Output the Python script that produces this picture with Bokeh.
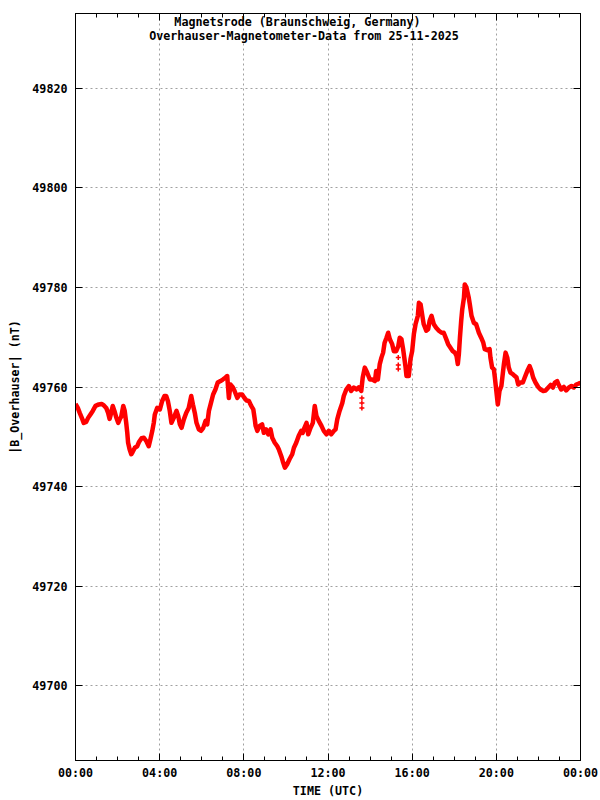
from bokeh.plotting import figure
from bokeh.models import FixedTicker, LinearAxis, Range1d, Label
from bokeh.embed import file_html
from bokeh.resources import INLINE

# ---- data ----
hours = [
    0.00, 0.11, 0.20, 0.32, 0.39, 0.51, 0.60, 0.71, 0.82, 0.95,
    1.11, 1.24, 1.35, 1.46, 1.55, 1.62, 1.66, 1.77, 1.85, 1.93,
    2.03, 2.11, 2.17, 2.27, 2.34, 2.41, 2.46, 2.50, 2.57, 2.65,
    2.72, 2.82, 2.93, 3.01, 3.14, 3.25, 3.37, 3.48, 3.56, 3.65,
    3.72, 3.77, 3.88, 4.01, 4.12, 4.23, 4.31, 4.39, 4.48, 4.56,
    4.67, 4.80, 4.88, 4.96, 5.04, 5.15, 5.26, 5.38, 5.50, 5.58,
    5.67, 5.75, 5.86, 5.97, 6.07, 6.18, 6.26, 6.34, 6.42, 6.54,
    6.65, 6.76, 6.89, 7.00, 7.13, 7.21, 7.29, 7.37, 7.48, 7.56,
    7.69, 7.79, 7.92, 8.03, 8.13, 8.24, 8.35, 8.45, 8.52, 8.56,
    8.64, 8.75, 8.87, 8.95, 9.06, 9.16, 9.27, 9.35, 9.47, 9.59,
    9.66, 9.78, 9.85, 9.95, 10.06, 10.17, 10.30, 10.38, 10.49, 10.61,
    10.73, 10.80, 10.88, 10.98, 11.06, 11.17, 11.28, 11.37, 11.45, 11.56,
    11.69, 11.80, 11.93, 12.04, 12.15, 12.28, 12.36, 12.44, 12.55, 12.68,
    12.75, 12.87, 12.99, 13.10, 13.23, 13.36, 13.46, 13.58, 13.65, 13.75,
    13.86, 13.99, 14.10, 14.23, 14.29, 14.37, 14.46, 14.54, 14.62, 14.69,
    14.78, 14.86, 14.94, 15.05, 15.13, 15.24, 15.34, 15.41, 15.49, 15.57,
    15.68, 15.73, 15.84, 15.92, 16.00, 16.08, 16.16, 16.27, 16.32, 16.40,
    16.51, 16.55, 16.67, 16.76, 16.83, 16.92, 17.03, 17.14, 17.27, 17.40,
    17.50, 17.62, 17.71, 17.82, 17.93, 18.03, 18.11, 18.17, 18.22, 18.27,
    18.33, 18.38, 18.46, 18.50, 18.58, 18.69, 18.74, 18.82, 18.93, 19.04,
    19.17, 19.28, 19.38, 19.45, 19.57, 19.68, 19.72, 19.80, 19.88, 19.93,
    20.00, 20.07, 20.15, 20.24, 20.36, 20.44, 20.52, 20.59, 20.67, 20.78,
    20.88, 20.96, 21.04, 21.15, 21.26, 21.35, 21.47, 21.58, 21.67, 21.75,
    21.86, 21.99, 22.10, 22.23, 22.34, 22.47, 22.58, 22.69, 22.78, 22.89,
    22.97, 23.08, 23.21, 23.32, 23.45, 23.57, 23.68, 23.80, 23.92, 24.00,
]
field_nT = [
    49756.6, 49755.8, 49754.8, 49753.6, 49752.8, 49753.0, 49753.8, 49754.5, 49755.2, 49756.2,
    49756.5, 49756.6, 49756.3, 49755.8, 49754.8, 49753.6, 49754.2, 49756.2, 49755.2, 49754.0,
    49752.8, 49753.6, 49754.0, 49756.2, 49755.2, 49752.8, 49750.8, 49748.8, 49747.5, 49746.5,
    49747.0, 49747.8, 49748.1, 49748.9, 49749.7, 49749.8, 49749.1, 49748.1, 49749.5, 49751.2,
    49752.8, 49754.5, 49755.8, 49755.5, 49757.2, 49758.2, 49758.2, 49757.2, 49755.2, 49752.8,
    49753.8, 49755.2, 49754.2, 49752.5, 49751.8, 49753.5, 49754.8, 49755.8, 49758.2, 49756.5,
    49754.8, 49752.8, 49751.5, 49751.2, 49751.8, 49753.2, 49752.5, 49755.2, 49756.5, 49758.5,
    49759.5, 49760.9, 49761.2, 49761.5, 49761.9, 49762.2, 49757.8, 49760.5, 49759.9, 49759.2,
    49757.8, 49758.5, 49758.5, 49757.8, 49757.3, 49757.2, 49756.2, 49755.5, 49753.5, 49752.2,
    49751.2, 49752.2, 49752.5, 49750.8, 49751.5, 49750.5, 49751.5, 49749.8, 49748.8, 49748.1,
    49747.5, 49746.1, 49745.1, 49743.8, 49744.5, 49745.5, 49746.5, 49747.8, 49748.8, 49750.2,
    49751.2, 49750.8, 49751.8, 49752.8, 49750.5, 49751.8, 49752.8, 49756.2, 49754.2, 49753.2,
    49752.2, 49751.2, 49750.5, 49751.2, 49750.5, 49751.2, 49751.5, 49753.5, 49755.2, 49756.8,
    49758.2, 49759.5, 49760.2, 49759.2, 49759.9, 49759.5, 49759.9, 49759.2, 49761.9, 49763.9,
    49762.9, 49761.5, 49761.5, 49761.2, 49763.2, 49761.5, 49764.6, 49765.9, 49766.9, 49768.9,
    49769.9, 49770.9, 49769.6, 49768.6, 49767.2, 49767.2, 49768.2, 49769.9, 49769.6, 49767.6,
    49764.2, 49762.2, 49762.2, 49765.6, 49767.2, 49770.6, 49772.6, 49774.3, 49776.9, 49776.6,
    49773.6, 49772.6, 49771.3, 49771.6, 49773.3, 49774.3, 49772.6, 49771.9, 49771.3, 49770.9,
    49770.9, 49769.6, 49768.6, 49767.9, 49767.2, 49766.9, 49766.2, 49764.6, 49766.6, 49769.9,
    49773.3, 49775.6, 49777.9, 49780.6, 49780.0, 49777.9, 49776.6, 49774.3, 49772.9, 49772.6,
    49770.9, 49769.9, 49768.9, 49767.6, 49767.4, 49767.6, 49765.9, 49763.9, 49763.6, 49761.9,
    49759.2, 49756.5, 49759.2, 49760.2, 49764.6, 49766.9, 49765.9, 49763.9, 49762.9, 49762.6,
    49762.2, 49761.9, 49760.5, 49760.9, 49760.9, 49761.9, 49763.2, 49764.2, 49763.2, 49761.9,
    49760.9, 49760.0, 49759.5, 49759.2, 49759.3, 49759.9, 49760.4, 49759.9, 49760.9, 49761.2,
    49760.4, 49759.5, 49760.0, 49759.3, 49759.9, 49760.2, 49759.9, 49760.5, 49760.7, 49760.8,
]
spike_hours = [13.61, 13.61, 13.61, 15.34, 15.34, 15.34]
spike_nT = [49757.8, 49756.8, 49755.8, 49765.9, 49764.4, 49763.6]

x_ticks = [0, 4, 8, 12, 16, 20, 24]
x_tick_labels = ["00:00", "04:00", "08:00", "12:00", "16:00", "20:00", "00:00"]
x_minor_ticks = list(range(0, 25))
y_ticks = [49700, 49720, 49740, 49760, 49780, 49800, 49820]
title_lines = ["Magnetsrode (Braunschweig, Germany)",
               "Overhauser-Magnetometer-Data from 25-11-2025"]
x_label = "TIME (UTC)"
y_label = "|B_Overhauser| (nT)"

assert len(hours) == len(field_nT)

FONT = "DejaVu Sans Mono"
FS = "11.7px"
RED = "#ff0000"

p = figure(frame_width=505, frame_height=747,
           x_range=Range1d(0, 24), y_range=Range1d(49685, 49835),
           output_backend="svg", toolbar_location=None,
           min_border_left=75, min_border_right=20,
           min_border_top=13, min_border_bottom=40,
           background_fill_color="white", border_fill_color="white",
           outline_line_color="black", outline_line_width=1)

xt = FixedTicker(ticks=x_ticks, minor_ticks=x_minor_ticks)
yt = FixedTicker(ticks=y_ticks, minor_ticks=[])


def style_axis(ax):
    ax.axis_line_color = "black"
    ax.major_tick_line_color = "black"
    ax.minor_tick_line_color = "black"
    ax.major_tick_in = 7
    ax.major_tick_out = 0
    ax.minor_tick_in = 4
    ax.minor_tick_out = 0
    ax.major_label_text_font = FONT
    ax.major_label_text_font_style = "bold"
    ax.major_label_text_color = "black"
    ax.major_label_text_font_size = FS


for ax in p.xaxis:
    ax.ticker = xt
    ax.major_label_overrides = {t: lab for t, lab in zip(x_ticks, x_tick_labels)}
    style_axis(ax)
    ax.major_label_standoff = 5
    ax.axis_label = x_label
    ax.axis_label_standoff = 1
    ax.axis_label_text_font = FONT
    ax.axis_label_text_font_style = "bold"
    ax.axis_label_text_font_size = FS
    ax.axis_label_text_color = "black"

for ax in p.yaxis:
    ax.ticker = yt
    style_axis(ax)
    ax.major_label_standoff = 8
    ax.axis_label = y_label
    ax.axis_label_standoff = 7
    ax.axis_label_text_font = FONT
    ax.axis_label_text_font_style = "bold"
    ax.axis_label_text_font_size = FS
    ax.axis_label_text_color = "black"

# mirrored tick marks on top and right (no labels)
top = LinearAxis(ticker=xt)
style_axis(top)
top.major_label_overrides = {t: "" for t in x_ticks}
top.major_label_standoff = 0
p.add_layout(top, "above")

right = LinearAxis(ticker=yt)
style_axis(right)
right.minor_tick_in = 0
right.major_label_overrides = {t: "" for t in y_ticks}
right.major_label_standoff = 0
p.add_layout(right, "right")

for g in (p.xgrid, p.ygrid):
    g.grid_line_color = "#a0a0a0"
    g.grid_line_dash = "2 3"
    g.grid_line_width = 1
p.xgrid.ticker = FixedTicker(ticks=x_ticks)
p.ygrid.ticker = FixedTicker(ticks=y_ticks)

p.line(hours, field_nT, line_color=RED, line_width=4.5, line_join="round")
p.scatter(spike_hours, spike_nT, marker="cross", size=5,
          line_color=RED, line_width=1.5)

# two-line title inside the top of the frame (screen units from frame bottom-left)
for txt, cx, cy in [(title_lines[0], 222, 738.5),
                    (title_lines[1], 228.5, 725)]:
    p.add_layout(Label(x=cx, y=cy, x_units="screen", y_units="screen",
                       text=txt, text_align="center", text_baseline="middle",
                       text_font=FONT, text_font_style="bold",
                       text_font_size=FS, text_color="black"))

open("out.html", "w").write(file_html(p, INLINE))
